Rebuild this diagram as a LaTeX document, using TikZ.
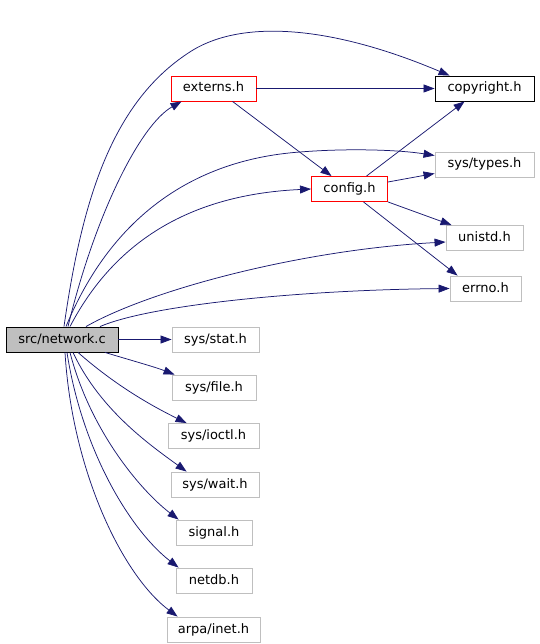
\documentclass[tikz,border=0pt]{standalone}
\usepackage{fontspec}
\setmainfont{DejaVu Sans}
\usetikzlibrary{arrows.meta}
\definecolor{edgeblue}{HTML}{191970}
\definecolor{greyl}{HTML}{BFBFBF}
\begin{document}
\begin{tikzpicture}[x=1pt,y=-1pt,
  box/.style={draw=greyl, line width=0.9pt, minimum height=25pt, inner sep=0pt,
    text height=9.5pt, text depth=2.5pt, font=\fontsize{13}{15}\selectfont},
  redbox/.style={box, draw=red},
  blackbox/.style={box, draw=black},
  rootbox/.style={box, draw=black, fill=greyl},
  edge/.style={draw=edgeblue, line width=0.75pt, -{Triangle[length=11pt,width=8pt]}}]
\useasboundingbox (0,0) rectangle (539,644);
% nodes
\node[rootbox, minimum width=112pt] (net) at (62,339.5) {src/network.c};
\node[redbox, minimum width=85pt] (ext) at (213.5,88.5) {externs.h};
\node[blackbox, minimum width=99pt] (cop) at (484.5,88.5) {copyright.h};
\node[box, minimum width=99pt] (typ) at (484.5,164.5) {sys/types.h};
\node[redbox, minimum width=76pt] (cfg) at (349.5,189) {config.h};
\node[box, minimum width=77pt] (uni) at (484.5,238) {unistd.h};
\node[box, minimum width=71pt] (err) at (485.5,288.5) {errno.h};
\node[box, minimum width=87pt] (stat) at (215.5,339.5) {sys/stat.h};
\node[box, minimum width=84pt] (file) at (214,387.5) {sys/file.h};
\node[box, minimum width=91pt] (ioc) at (213.5,436) {sys/ioctl.h};
\node[box, minimum width=88pt] (wait) at (215,484.5) {sys/wait.h};
\node[box, minimum width=76pt] (sig) at (214,532.5) {signal.h};
\node[box, minimum width=76pt] (ndb) at (214,580.5) {netdb.h};
\node[box, minimum width=93pt] (arpa) at (213.5,629.5) {arpa/inet.h};
% edges from src/network.c
\draw[edge] ([xshift=6pt]net.north) .. controls (95,215) and (140,125) .. ([xshift=11pt]ext.south west);
\draw[edge] ([xshift=2pt]net.north) .. controls (82,200) and (112,100) .. (193,50)
  .. controls (243,20) and (330,25) .. ([xshift=15pt]cop.north west);
\draw[edge] ([xshift=4pt]net.north) .. controls (110,220) and (190,160) .. (300,152)
  .. controls (350,148) and (400,150) .. ([yshift=9pt]typ.west);
\draw[edge] ([xshift=8pt]net.north) .. controls (110,250) and (180,195) .. (cfg.west);
\draw[edge] ([xshift=24pt]net.north) .. controls (150,290) and (300,250) .. ([yshift=-4pt]uni.west);
\draw[edge] ([xshift=38pt]net.north) .. controls (150,305) and (300,290) .. (err.west);
\draw[edge] (net.east) -- (stat.west);
\draw[edge] ([xshift=43pt]net.south) .. controls (130,360) and (155,367) .. ([xshift=3pt]file.north west);
\draw[edge] ([xshift=16pt]net.south) .. controls (115,385) and (150,405) .. ([xshift=19pt]ioc.north west);
\draw[edge] ([xshift=11pt]net.south) .. controls (100,410) and (150,445) .. ([xshift=16pt]wait.north west);
\draw[edge] ([xshift=8pt]net.south) .. controls (90,430) and (140,490) .. ([xshift=3pt]sig.north west);
\draw[edge] ([xshift=5pt]net.south) .. controls (82,450) and (130,530) .. ([xshift=3pt]ndb.north west);
\draw[edge] ([xshift=3pt]net.south) .. controls (72,470) and (122,575) .. ([xshift=11pt]arpa.north west);
% other edges
\draw[edge] (ext.east) -- (cop.west);
\draw[edge] ([xshift=19pt]ext.south) -- ([xshift=-18pt]cfg.north);
\draw[edge] ([xshift=17pt]cfg.north) -- ([xshift=30pt]cop.south west);
\draw[edge] ([yshift=7pt]cfg.east) -- ([yshift=-9pt]typ.west);
\draw[edge] (cfg.south east) -- ([xshift=6pt]uni.north west);
\draw[edge] ([xshift=14pt]cfg.south) -- ([xshift=8pt]err.north west);
\end{tikzpicture}
\end{document}
